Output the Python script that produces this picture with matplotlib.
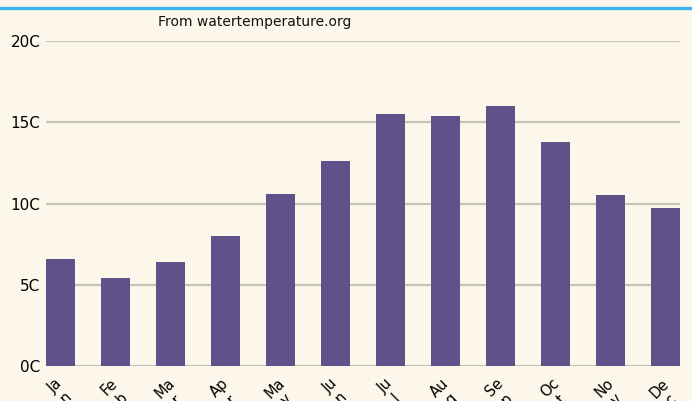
import numpy as np
import matplotlib
matplotlib.use("Agg")
import matplotlib.pyplot as plt
import matplotlib.transforms as mtransforms
from matplotlib.lines import Line2D

# ---- data -------------------------------------------------------------------
months = ["Jan", "Feb", "Mar", "Apr", "May", "Jun",
          "Jul", "Aug", "Sep", "Oct", "Nov", "Dec"]
temps = [6.6, 5.4, 6.4, 8.0, 10.6, 12.6, 15.5, 15.4, 16.0, 13.8, 10.5, 9.7]
yticks = [0, 5, 10, 15, 20]
ytick_labels = ["0C", "5C", "10C", "15C", "20C"]
source = "From watertemperature.org"

BG = "#fdf6ea"
BAR = "#5f5189"
GRID = "#c8c3b7"
ACCENT = "#3bb6f4"

plt.rcParams.update({
    "font.family": "DejaVu Sans",
    "figure.facecolor": BG,
    "axes.facecolor": BG,
    "savefig.facecolor": BG,
})

fig = plt.figure(figsize=(6.92, 4.01), dpi=100)
ax = fig.add_axes([46 / 692, 1 - 366 / 401, (680 - 46) / 692, (366 - 41) / 401])

x = np.arange(len(months))
bw = 29 / 55
ax.bar(x, temps, width=bw, color=BAR, zorder=3)

ax.set_xlim(-bw / 2, len(months) - 1 + bw / 2)
ax.set_ylim(0, 20)
ax.set_yticks(yticks)
ax.set_yticklabels(ytick_labels, fontsize=11, color="#000000")
ax.grid(True, axis="y", color=GRID, lw=1.6, zorder=0)
ax.set_axisbelow(True)

# labels broken after two chars, like the source page renders them
wrapped = [m[:2] + "\n" + m[2:] for m in months]
ax.set_xticks(x)
ax.set_xticklabels(wrapped, rotation=45, ha="center", va="top",
                   fontsize=10.5, color="#000000", linespacing=1.1)
shift = mtransforms.ScaledTranslation(3 / 100, 0, fig.dpi_scale_trans)
for lbl in ax.get_xticklabels():
    lbl.set_transform(lbl.get_transform() + shift)
ax.tick_params(axis="both", length=0)
ax.tick_params(axis="y", pad=4)
ax.tick_params(axis="x", pad=7)
for sp in ax.spines.values():
    sp.set_visible(False)

# top accent stripe and source note
fig.add_artist(Line2D([0, 1], [1 - 7.5 / 401] * 2, color=ACCENT, lw=2.4,
                      transform=fig.transFigure))
fig.text(255 / 692, 1 - 22 / 401, source, ha="center", va="center",
         fontsize=10, color="#111111")

fig.savefig("out.png", dpi=100)
